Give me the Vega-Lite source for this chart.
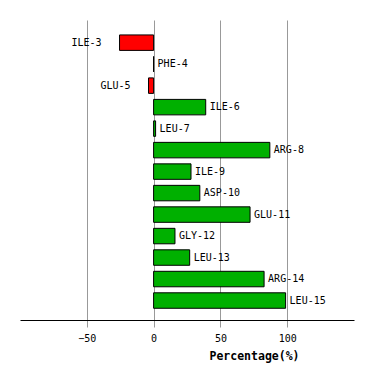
{
  "$schema": "https://vega.github.io/schema/vega-lite/v6.json",
  "width": 334,
  "height": 300,
  "autosize": {"type": "none"},
  "padding": {"left": 20, "top": 20, "right": 20, "bottom": 60},
  "background": "white",
  "config": {"view": {"stroke": null}},
  "data": {
    "values": [
      {"residue": "ILE-3", "value": -25.5},
      {"residue": "PHE-4", "value": 0},
      {"residue": "GLU-5", "value": -3.8},
      {"residue": "ILE-6", "value": 39},
      {"residue": "LEU-7", "value": 1.5},
      {"residue": "ARG-8", "value": 87},
      {"residue": "ILE-9", "value": 28},
      {"residue": "ASP-10", "value": 34.6},
      {"residue": "GLU-11", "value": 72.2},
      {"residue": "GLY-12", "value": 16},
      {"residue": "LEU-13", "value": 27},
      {"residue": "ARG-14", "value": 82.7},
      {"residue": "LEU-15", "value": 98.8}
    ]
  },
  "encoding": {
    "y": {
      "field": "residue",
      "type": "nominal",
      "sort": null,
      "scale": {"paddingInner": 0.28, "paddingOuter": 0.62, "align": 0.56},
      "axis": null
    },
    "x": {
      "field": "value",
      "type": "quantitative",
      "scale": {"domain": [-100, 150], "nice": false, "zero": false},
      "axis": {
        "values": [-50, 0, 50, 100],
        "title": "Percentage(%)",
        "titleFont": "DejaVu Sans Mono",
        "titleFontWeight": "bold",
        "titleFontSize": 11.5,
        "titleColor": "black",
        "titleX": 234,
        "titleY": 36,
        "titleAlign": "center",
        "titleBaseline": "middle",
        "labelFont": "DejaVu Sans Mono",
        "labelFontSize": 10,
        "labelColor": "black",
        "labelPadding": 6,
        "tickSize": 7,
        "tickColor": "#999999",
        "domainColor": "black",
        "grid": true,
        "gridColor": "#999999",
        "gridOpacity": 1
      }
    }
  },
  "layer": [
    {
      "mark": {"type": "bar", "stroke": "black", "strokeWidth": 1},
      "encoding": {
        "x2": {"datum": 0},
        "color": {
          "condition": {"test": "datum.value < 0", "value": "#ff0000"},
          "value": "#00b000"
        }
      }
    },
    {
      "transform": [{"filter": "datum.value < 0"}],
      "mark": {"type": "text", "align": "right", "baseline": "middle", "dx": -18, "font": "DejaVu Sans Mono", "fontSize": 10, "color": "black"},
      "encoding": {"text": {"field": "residue"}}
    },
    {
      "transform": [{"filter": "datum.value >= 0"}],
      "mark": {"type": "text", "align": "left", "baseline": "middle", "dx": 4, "font": "DejaVu Sans Mono", "fontSize": 10, "color": "black"},
      "encoding": {"text": {"field": "residue"}}
    }
  ]
}
